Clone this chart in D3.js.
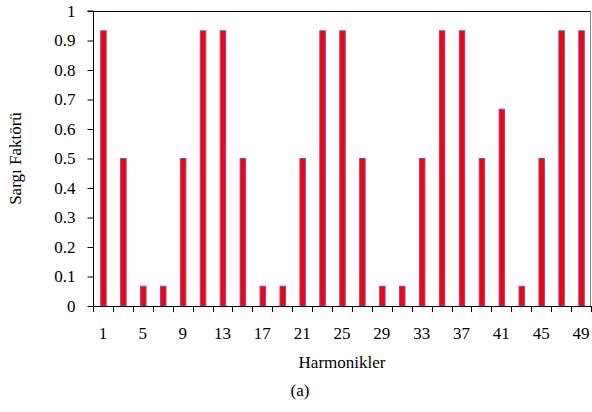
<!DOCTYPE html>
<html><head><meta charset="utf-8">
<script src="https://cdn.jsdelivr.net/npm/d3@7"></script>
<style>body{margin:0;background:#fff}svg{display:block}
svg text{font-family:"Liberation Serif","Times New Roman","Tinos","DejaVu Serif",serif !important;fill:#000}</style>
</head><body>
<script>
const harmonics = [1,3,5,7,9,11,13,15,17,19,21,23,25,27,29,31,33,35,37,39,41,43,45,47,49];
const factors = [0.933,0.5,0.067,0.067,0.5,0.933,0.933,0.5,0.067,0.067,0.5,0.933,0.933,0.5,0.067,0.067,0.5,0.933,0.933,0.5,0.667,0.067,0.5,0.933,0.933];
const yTicks = [0,0.1,0.2,0.3,0.4,0.5,0.6,0.7,0.8,0.9,1];
const xLabels = [1,5,9,13,17,21,25,29,33,37,41,45,49];

const W = 592, H = 412;
const m = {l:93, t:11, r:1, b:106};
const svg = d3.select("body").append("svg").attr("width",W).attr("height",H);
const x = d3.scaleBand().domain(harmonics).range([m.l, W-m.r]).padding(0);
const y = d3.scaleLinear().domain([0,1]).range([H-m.b, m.t]);

// frame top/right
svg.append("line").attr("x1",m.l).attr("x2",W-m.r).attr("y1",m.t+0.5).attr("y2",m.t+0.5).attr("stroke","#000");
svg.append("line").attr("x1",W-m.r-0.5).attr("x2",W-m.r-0.5).attr("y1",m.t).attr("y2",H-m.b).attr("stroke","#888");

// bars
const bw = 5.5;
svg.selectAll("rect.bar").data(harmonics).enter().append("rect")
  .attr("x", d => x(d) + x.bandwidth()/2 - bw/2 + 0.5)
  .attr("y", (d,i) => y(factors[i]))
  .attr("width", bw)
  .attr("height", (d,i) => y(0) - y(factors[i]))
  .attr("fill","#ff0000").attr("stroke","#7a4fc0").attr("stroke-width",1);

// y axis
const yAxis = d3.axisLeft(y).tickValues(yTicks).tickSize(6).tickPadding(12)
  .tickFormat(d => d===0?"0":d===1?"1":d3.format(".1f")(d));
const gy = svg.append("g").attr("transform",`translate(${m.l+0.5},0)`).call(yAxis);
gy.attr("font-family",null).attr("font-size",null);
gy.select(".domain").attr("d",`M-6,${m.t}H0V${H-m.b}`);
gy.selectAll("text").style("font-size","17px");
gy.selectAll(".tick line").attr("stroke","#000");

// x axis with ticks at band boundaries
const gx = svg.append("g");
gx.append("line").attr("x1",m.l).attr("x2",W-m.r).attr("y1",y(0)+0.5).attr("y2",y(0)+0.5).attr("stroke","#000");
const bounds = harmonics.map(d => x(d)).concat([W-m.r]);
gx.selectAll("line.t").data(bounds).enter().append("line")
  .attr("x1",d=>Math.round(d)+0.5).attr("x2",d=>Math.round(d)+0.5)
  .attr("y1",y(0)).attr("y2",y(0)+6).attr("stroke","#000");
gx.selectAll("text").data(xLabels).enter().append("text")
  .attr("x", d => x(d) + x.bandwidth()/2)
  .attr("y", 339).attr("text-anchor","middle").style("font-size","17px").text(d=>d);

svg.append("text").attr("x",(m.l+W-m.r)/2).attr("y",368).attr("text-anchor","middle")
  .style("font-size","17px").text("Harmonikler");
svg.append("text").attr("x",300).attr("y",396).attr("text-anchor","middle")
  .style("font-size","17px").text("(a)");
svg.append("text").attr("transform",`translate(21,${(m.t+H-m.b)/2}) rotate(-90)`)
  .attr("text-anchor","middle").style("font-size","17px").text("Sargı Faktörü");
</script>
</body></html>
